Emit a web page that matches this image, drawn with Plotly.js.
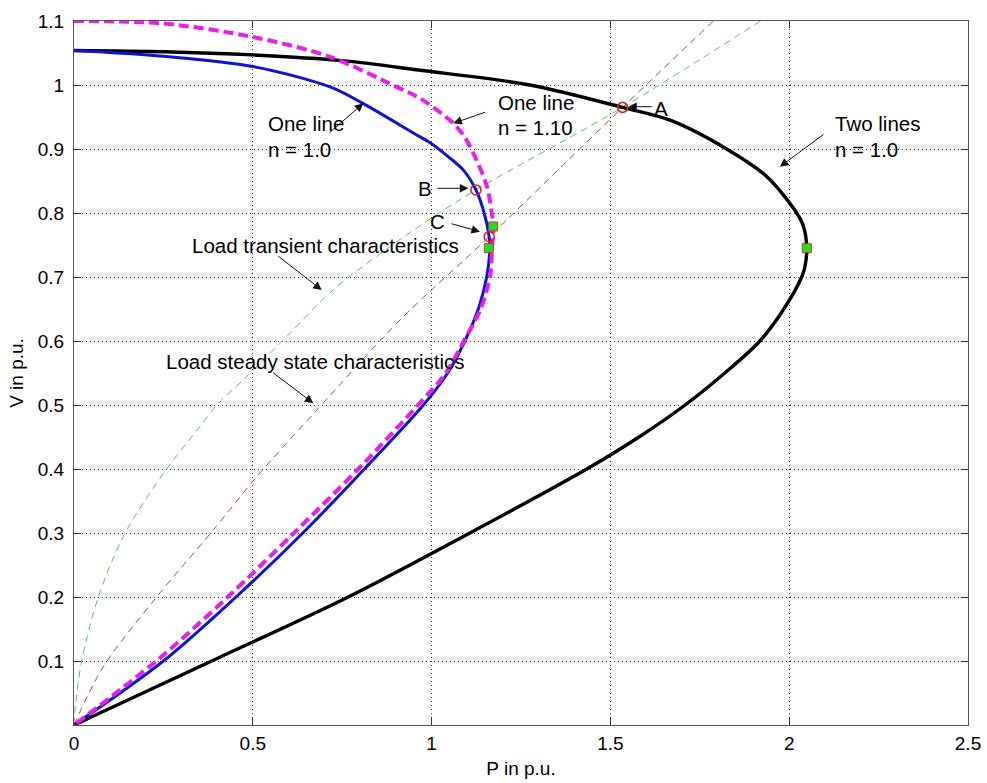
<!DOCTYPE html>
<html>
<head>
<meta charset="utf-8">
<script src="https://cdn.plot.ly/plotly-3.0.1.min.js"></script>
<style>html,body{margin:0;padding:0;background:#fff;}#chart{width:987px;height:783px;}</style>
</head>
<body>
<div id="chart"></div>
<script>
// ---- data ----
// Two lines, n = 1.0 (black PV curve)
const blackP = [0, 0.25, 0.5, 0.75, 0.968, 1.275, 1.534, 1.667, 1.825, 1.937, 2.021, 2.04, 2.049, 2.044, 2.035, 1.985, 1.918, 1.82, 1.709, 1.58, 1.434, 1.107, 0.767, 0.385, 0];
const blackV = [1.054, 1.052, 1.047, 1.038, 1.023, 1.0, 0.965, 0.945, 0.9, 0.857, 0.8, 0.779, 0.745, 0.716, 0.7, 0.65, 0.6, 0.55, 0.5, 0.45, 0.4, 0.3, 0.2, 0.1, 0];
// One line, n = 1.0 (blue PV curve)
const blueP = [0, 0.25, 0.5, 0.716, 0.809, 0.949, 0.998, 1.042, 1.089, 1.124, 1.147, 1.161, 1.163, 1.154, 1.133, 1.093, 1.045, 0.977, 0.812, 0.64, 0.453, 0.25, 0];
const blueV = [1.054, 1.045, 1.029, 0.997, 0.971, 0.925, 0.909, 0.89, 0.867, 0.836, 0.8, 0.763, 0.745, 0.7, 0.654, 0.6, 0.55, 0.5, 0.4, 0.3, 0.2, 0.1, 0];
// One line, n = 1.10 (magenta dashed PV curve)
const magP = [0, 0.25, 0.5, 0.716, 0.902, 0.968, 1.061, 1.093, 1.117, 1.154, 1.167, 1.172, 1.169, 1.163, 1.137, 1.09, 1.04, 0.962, 0.795, 0.615, 0.43, 0.23, 0];
const magV = [1.10, 1.096, 1.075, 1.044, 0.997, 0.979, 0.94, 0.918, 0.893, 0.843, 0.805, 0.779, 0.745, 0.7, 0.65, 0.6, 0.55, 0.5, 0.4, 0.3, 0.2, 0.1, 0];
// Load transient characteristics (green dashed)
const trP = [0, 0.004, 0.0215, 0.068, 0.143, 0.259, 0.352, 0.399, 0.473, 0.595, 0.725, 0.949, 1.124, 1.534, 1.92];
const trV = [0, 0.03, 0.1, 0.2, 0.3, 0.4, 0.466, 0.5, 0.539, 0.607, 0.680, 0.773, 0.836, 0.965, 1.10];
// Load steady state characteristics (red dashed)
const stP = [0, 0.082, 0.231, 0.390, 0.511, 0.679, 0.912, 1.161, 1.534, 1.788];
const stV = [0, 0.091, 0.20, 0.305, 0.388, 0.492, 0.633, 0.763, 0.965, 1.10];
// Nose points (green squares) and operating points A, B, C (red circles)
const noseP = [1.172, 1.160, 2.049];
const noseV = [0.779, 0.745, 0.745];
const opP = [1.534, 1.124, 1.161];
const opV = [0.965, 0.836, 0.763];
// Ticks
const xTicks = [0, 0.5, 1, 1.5, 2, 2.5];
const xTickText = ['0', '0.5', '1', '1.5', '2', '2.5'];
const yTicks = [0.1, 0.2, 0.3, 0.4, 0.5, 0.6, 0.7, 0.8, 0.9, 1.0, 1.1];
const yTickText = ['0.1', '0.2', '0.3', '0.4', '0.5', '0.6', '0.7', '0.8', '0.9', '1', '1.1'];

const FONT = 'Arial, "Liberation Sans", sans-serif';

const traces = [
  {x: trP, y: trV, mode: 'lines', line: {color: '#55c855', width: 1, dash: '7px,5px', shape: 'spline', smoothing: 0.9}, hoverinfo: 'skip'},
  {x: stP, y: stV, mode: 'lines', line: {color: '#b54848', width: 1, dash: '7px,5px', shape: 'spline', smoothing: 0.9}, hoverinfo: 'skip'},
  {x: blackP, y: blackV, mode: 'lines', line: {color: '#000000', width: 3.4, shape: 'spline', smoothing: 0.9}},
  {x: blueP, y: blueV, mode: 'lines', line: {color: '#0a14d8', width: 3, shape: 'spline', smoothing: 0.9}},
  {x: magP, y: magV, mode: 'lines', line: {color: '#ee1bee', width: 4, dash: '10px,5px', shape: 'spline', smoothing: 0.9}},
  {x: noseP, y: noseV, mode: 'markers', marker: {symbol: 'square', size: 9, color: '#22dd22', line: {color: '#c04010', width: 1}}},
  {x: opP, y: opV, mode: 'markers', marker: {symbol: 'circle-open', size: 10, color: '#e02020', line: {color: '#e02020', width: 1.6}}}
];

function label(text, x, y) {
  return {text: text, x: x, y: y, xref: 'x', yref: 'y', xanchor: 'left', yanchor: 'middle',
          showarrow: false, font: {family: FONT, size: 20.5, color: '#000'}};
}
function arrow(x, y, ax, ay) {
  return {text: '', x: x, y: y, ax: ax, ay: ay, xref: 'x', yref: 'y', axref: 'x', ayref: 'y',
          showarrow: true, arrowhead: 2, arrowsize: 1.7, arrowwidth: 1, arrowcolor: '#111', standoff: 0, startstandoff: 0};
}

const annotations = [
  label('One line', 0.537, 0.9391), label('n = 1.0', 0.537, 0.90),
  label('One line', 1.180, 0.9734), label('n = 1.10', 1.180, 0.9336),
  label('Two lines', 2.122, 0.9391), label('n = 1.0', 2.122, 0.90),
  label('A', 1.617, 0.9636), label('B', 0.957, 0.8386), label('C', 0.990, 0.7864),
  label('Load transient characteristics', 0.323, 0.75),
  label('Load steady state characteristics', 0.253, 0.5677),
  arrow(0.809, 0.9714, 0.7103, 0.9234),
  arrow(1.0607, 0.9402, 1.1541, 0.9583),
  arrow(1.974, 0.8723, 2.100, 0.9245),
  arrow(1.550, 0.9661, 1.620, 0.9661),
  arrow(1.1026, 0.8386, 1.0123, 0.8386),
  arrow(1.1353, 0.7708, 1.0515, 0.7839),
  arrow(0.6927, 0.6797, 0.5668, 0.7344),
  arrow(0.6692, 0.5027, 0.5529, 0.552)
];

const axisCommon = {
  showline: true, mirror: 'ticks', linecolor: '#555', linewidth: 1,
  ticks: 'inside', ticklen: 7, tickcolor: '#333', tickwidth: 1,
  showgrid: true, gridcolor: '#333', gridwidth: 1, griddash: '1px,3px',
  zeroline: false, tickfont: {family: FONT, size: 19, color: '#000'}, automargin: false
};

const layout = {
  width: 987, height: 783,
  margin: {l: 74, r: 19, t: 21, b: 58, pad: 0},
  paper_bgcolor: '#fff', plot_bgcolor: '#fff',
  showlegend: false,
  xaxis: Object.assign({}, axisCommon, {range: [0, 2.5], tickvals: xTicks, ticktext: xTickText,
    ticklabelstandoff: 1,
    title: {text: 'P in p.u.', font: {family: FONT, size: 19, color: '#000'}, standoff: 8}}),
  yaxis: Object.assign({}, axisCommon, {range: [0, 1.1], tickvals: yTicks, ticktext: yTickText,
    ticklabelstandoff: 5,
    title: {text: 'V in p.u.', font: {family: FONT, size: 19, color: '#000'}, standoff: 9}}),
  annotations: annotations
};

Plotly.newPlot('chart', traces, layout, {displayModeBar: false, staticPlot: true});
</script>
</body>
</html>
